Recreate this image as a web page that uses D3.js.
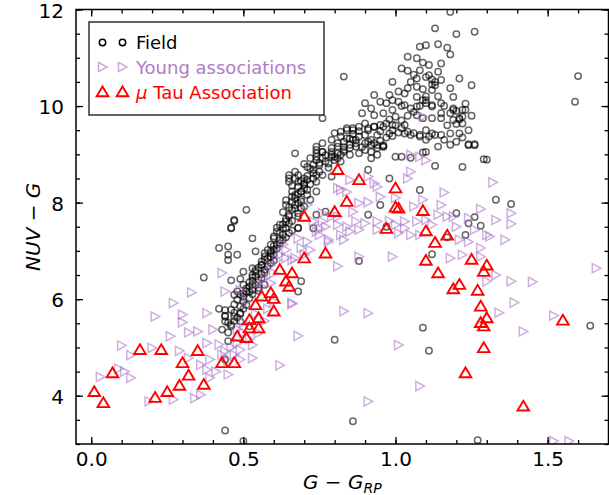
<!DOCTYPE html>
<html>
<head>
<meta charset="utf-8">
<script src="https://cdn.jsdelivr.net/npm/d3@7"></script>
<style>
  body { margin: 0; background: #fff; }
  svg { display: block; font-family: "DejaVu Sans", sans-serif; }
</style>
</head>
<body>
<svg id="chart" width="609" height="495"></svg>
<script>
// G - G_RP vs NUV - G
const fieldPts = [
  [0.51,7.85],[0.47,7.62],[0.46,7.48],[0.53,7.26],[0.42,7.06],[0.45,7.09],[0.45,6.92],[0.48,6.92],[0.45,6.81],
  [0.37,6.45],[0.50,6.57],[0.46,6.39],[0.49,6.42],[0.53,6.64],[0.50,6.30],[0.48,6.16],[0.54,6.99],
  [0.42,5.80],[0.44,5.77],[0.44,5.66],[0.49,5.70],[0.44,5.54],[0.46,5.47],[0.49,5.54],[0.45,5.31],[0.45,5.13],
  [0.44,4.75],[0.47,6.09],[0.50,6.12],[0.52,6.16],[0.44,3.28],[0.50,3.06],
  [0.80,5.16],[0.86,3.47],[1.09,5.41],[1.11,4.93],[0.52,5.44],[1.64,5.45],[1.27,3.08],
  [1.14,9.16],[1.10,9.05],[1.24,9.19],[1.26,9.19],[1.29,8.90],[1.30,8.89],[1.13,8.76],[1.22,8.74],[1.33,8.06],
  [1.38,7.97],[1.20,7.78],[1.26,7.70],[1.24,7.57],[1.28,7.52],[1.23,7.33],[1.17,7.28],[1.12,6.93],
  [0.67,9.02],[0.91,8.68],[0.98,8.50],[1.00,8.95],[1.02,8.95],[1.05,8.93],[1.09,9.04],[1.08,8.26],[0.95,7.95],
  [0.91,7.75],[0.74,7.75],[0.73,7.47],[0.68,7.48],[0.88,6.79],[0.67,8.64],[0.97,7.50],[0.69,6.37],[0.68,6.16],
  [1.18,11.95],[1.13,11.61],[1.20,11.49],[1.26,11.54],[1.10,11.26],[1.14,11.28],[1.17,11.21],[1.18,11.07],
  [1.60,10.62],[1.59,10.09],[1.21,10.57],[1.25,10.43],[1.18,10.37],[1.19,10.19],[1.23,9.92],[1.21,9.72],
  [1.20,9.63],[1.21,9.43],[1.18,9.43],[1.15,9.40],[1.13,9.40],[1.12,9.43],[1.20,9.26],[1.24,9.21],[1.26,9.21],
  [1.15,10.88],[1.14,10.71],[1.15,10.54],[1.12,10.55],[1.13,10.43],[1.12,10.33],[1.10,10.12],[1.12,9.99],
  [1.15,9.85],[1.12,9.75],[1.10,9.50],[1.15,9.75],[1.19,9.92],[1.22,9.78],
  [1.08,11.23],[1.04,11.02],[1.07,10.99],[1.09,10.90],[1.02,10.78],[1.04,10.73],[1.08,10.74],[1.11,10.64],
  [1.07,10.57],[0.83,10.61],[0.99,10.50],[1.05,10.50],[1.13,10.50],[1.04,10.37],[1.07,10.40],[1.01,10.30],
  [1.03,10.26],[0.93,10.23],[0.98,10.23],[0.99,10.12],[1.07,10.19],[1.09,10.12],[0.90,10.06],[0.92,9.95],
  [0.95,10.09],[0.97,10.06],[1.01,10.09],[1.03,10.02],[1.10,10.06],[1.12,10.02],[1.15,10.06],[1.19,9.95],
  [1.20,9.90],[1.22,9.92],[0.89,9.85],[0.93,9.81],[0.96,9.85],[0.99,9.92],[1.00,9.78],[1.05,9.95],[1.07,9.99],
  [1.07,9.81],[1.09,9.75],[1.19,9.71],[1.21,9.75],[1.22,9.64],[0.84,9.54],[0.86,9.50],[0.90,9.64],[0.91,9.50],
  [0.93,9.57],[0.96,9.57],[0.98,9.43],[0.99,9.50],[1.03,9.61],[1.03,9.43],[1.05,9.40],[1.08,9.40],[1.11,9.37],
  [0.82,9.37],[0.84,9.33],[0.86,9.30],[0.88,9.37],[0.91,9.26],[0.93,9.23],[0.96,9.19],[0.94,9.40],[0.76,9.75],
  [0.80,9.44],[0.82,9.47],[0.84,9.50],[0.86,9.54],[0.88,9.57],[0.91,9.54],[0.93,9.57],[0.95,9.61],[0.97,9.64],
  [0.99,9.61],[1.02,9.54],[1.04,9.47],[1.06,9.44],[1.08,9.37],[1.10,9.30],
  [0.79,9.30],[0.81,9.23],[0.83,9.26],[0.85,9.33],[0.87,9.30],[0.90,9.23],[0.92,9.30],[0.94,9.19],[0.96,9.16],
  [0.74,9.16],[0.76,9.23],
  [0.74,9.09],[0.76,9.05],[0.79,9.13],[0.81,9.16],[0.83,9.09],[0.85,9.13],[0.87,9.16],[0.90,9.09],[0.92,9.05],
  [0.94,9.13],[0.96,9.16],
  [0.72,8.92],[0.74,8.88],[0.76,8.92],[0.79,8.95],[0.81,8.92],[0.82,8.99],[0.85,8.99],[0.88,9.02],[0.92,8.92],
  [0.94,8.99],
  [0.71,8.74],[0.73,8.68],[0.75,8.78],[0.78,8.81],[0.74,8.57],
  [0.70,8.50],[0.73,8.50],[0.70,8.37],[0.69,8.23],[0.71,8.26],[0.68,8.43],[0.65,8.50],
  [0.67,8.09],[0.69,8.02],[0.67,7.88],[0.65,7.75],[0.68,7.71],[0.65,7.57],[0.63,7.47],[0.65,7.37],[0.63,7.23],
  [0.61,7.13],[0.59,6.99],[0.60,6.92],[0.57,6.81],[0.56,6.71],[0.54,6.57],[0.54,6.47],[0.53,6.30],[0.55,6.23],
  [0.74,9.02],[0.76,9.05],[0.79,8.99],[0.81,9.02],[0.83,9.05],[0.73,8.78],[0.75,8.82],[0.77,8.85],[0.80,8.88],
  [0.82,8.85],[0.73,8.61],[0.75,8.64],[0.76,8.57],[0.79,8.54],[0.71,8.47],[0.70,8.40],[0.74,8.43],[0.68,8.57],
  [0.65,8.57],[0.65,8.43],[0.68,8.33],[0.69,8.23],[0.67,8.16],[0.66,8.23],[0.69,8.06],[0.71,8.16],[0.74,8.23],
  [0.72,8.06],[0.70,7.92],[0.68,7.99],[0.64,7.95],[0.66,7.85],[0.68,7.78],[0.65,7.71],[0.64,7.61],[0.62,7.54],
  [0.64,7.47],[0.61,7.40],[0.63,7.33],[0.60,7.26],[0.62,7.16],[0.59,7.13],[0.60,7.02],[0.58,7.02],[0.59,6.88],
  [0.57,6.88],[0.59,6.75],[0.56,6.71],[0.54,6.61],[0.57,6.61],[0.53,6.50],[0.56,6.44],[0.53,6.37],[0.54,6.30],
  [0.57,6.30],[0.52,6.26],[0.53,6.19],[0.51,6.16],[0.49,6.09],[0.48,5.99],[0.50,5.95],[0.47,5.89],[0.46,5.78],
  [0.44,5.64],[0.45,5.51],[0.46,5.44],[0.43,5.37],[0.47,5.64],[0.49,5.71],[0.77,7.81],[0.68,7.47],
  [0.47,7.64],[0.46,7.47],
  [0.47,5.55],[0.48,5.62],[0.50,5.80],[0.51,5.88],[0.49,5.85],[0.52,6.02],[0.50,6.05],[0.47,5.72],
  [0.53,6.10],[0.55,6.18],[0.51,6.22],[0.52,6.35],[0.55,6.40],[0.56,6.52],[0.53,6.45],[0.57,6.55],
  [0.55,6.65],[0.58,6.68],[0.56,6.78],[0.58,6.85],[0.60,6.80],[0.57,6.95],[0.59,6.95],[0.61,7.05],
  [0.60,7.10],[0.62,7.22],[0.60,7.30],[0.62,7.38],[0.64,7.28],[0.61,7.48],[0.63,7.55],[0.66,7.42],
  [0.64,7.66],[0.66,7.62],[0.63,7.80],[0.65,7.90],[0.67,7.95],[0.66,8.02],[0.69,7.88],[0.64,8.05],
  [0.66,8.12],[0.68,8.18],[0.70,8.30],[0.66,8.35],[0.69,8.45],[0.72,8.38],[0.71,8.55],[0.67,8.50],
  [0.72,8.70],[0.70,8.80],[0.74,8.95],[0.77,8.98],[0.79,9.05],[0.78,8.72],[0.80,8.95],[0.83,9.15],
  [0.85,9.20],[0.87,9.23],[0.89,9.15],[0.92,9.20],[0.95,9.28],[0.97,9.35],[0.99,9.38],[1.01,9.45],
  [0.86,9.42],[0.88,9.48],[0.90,9.40],[0.95,9.48],[1.00,9.60],[1.02,9.70],[1.04,9.80],[1.06,9.88],
  [1.08,10.00],[1.10,10.20],[1.12,10.45],[1.10,10.60],[1.09,10.35],[1.14,10.20],[1.16,10.00],[1.18,9.85],
  [1.17,9.60],[1.16,9.30],[1.18,9.20],[1.22,9.35],[1.24,9.50],[1.25,9.80],[1.23,10.05],[1.06,10.65],
  [1.11,10.85],[1.02,10.00],[0.98,9.72]
];

const youngPts = [
  [0.43,6.54],[0.33,6.14],[0.44,6.16],[0.27,5.92],[0.21,5.64],[0.30,5.68],[0.30,5.52],[0.38,5.71],[0.40,5.37],
  [0.32,5.31],[0.35,5.33],[0.26,5.23],[0.10,5.04],[0.13,4.84],[0.20,4.99],[0.29,4.93],[0.38,5.09],[0.42,5.06],
  [0.44,4.92],[0.49,4.95],[0.09,4.56],[0.11,4.50],[0.03,4.39],[0.13,4.37],[0.32,4.78],[0.36,4.64],[0.39,4.75],
  [0.41,4.50],[0.39,4.37],[0.45,4.71],[0.47,4.85],[0.34,3.95],[0.36,4.02],[0.19,3.88],[0.27,3.92],[0.53,4.78],
  [0.50,5.51],[0.48,5.09],[0.43,4.85],[0.38,4.54],
  [0.48,5.38],[0.52,5.17],[0.49,4.75],[0.45,4.44],[0.46,5.00],[0.50,5.30],[0.53,5.05],[0.55,5.30],[0.57,5.55],
  [0.58,5.80],[0.54,5.70],[0.60,5.95],
  [0.71,7.95],[0.81,8.30],[0.85,8.47],[0.91,8.54],[0.93,8.40],[0.94,8.33],[1.04,8.50],[1.05,8.64],[1.00,8.10],
  [1.09,8.06],[1.06,7.92],[0.88,7.99],[0.91,8.01],[0.95,8.12],[0.86,7.81],[0.81,7.71],[0.76,7.61],[0.77,7.50],
  [0.81,7.54],[0.84,7.50],[0.87,7.61],[0.90,7.57],[0.94,7.61],[0.98,7.62],[1.00,7.54],[1.03,7.61],[1.07,7.61],
  [1.10,7.64],[0.74,7.40],[0.75,7.33],[0.82,7.33],[0.85,7.40],[0.88,7.44],[0.94,7.44],[1.01,7.37],[1.03,7.47],
  [1.05,7.33],[1.08,7.33],[0.71,7.19],[0.78,7.19],[0.83,7.23],[0.88,6.88],[0.99,6.88],[0.70,6.92],[0.64,6.85],
  [0.66,6.81],[0.69,7.06],[0.60,6.54],[0.63,7.13],[0.62,6.92],[0.59,6.71],[0.57,6.44],[0.54,6.30],[0.73,7.61],
  [0.76,7.78],[0.79,7.71],
  [0.49,6.19],[0.51,5.95],[0.56,6.26],[0.59,6.33],[0.61,6.81],[0.64,7.02],[0.68,7.26],[0.67,6.85],[0.66,5.92],
  [0.75,7.47],[0.78,7.23],[0.81,6.68],[0.72,7.02],[0.82,8.26],[0.84,8.22],
  [1.10,8.88],[1.32,8.42],[1.16,8.21],[1.15,7.95],[1.28,7.87],[1.38,7.78],[1.33,7.64],[1.38,7.56],[1.14,7.75],
  [1.17,7.71],[1.19,7.71],[1.24,7.68],[1.12,7.54],[1.20,7.50],[1.26,7.44],[1.30,7.33],[1.36,7.23],[1.21,7.23],
  [1.24,7.19],[1.28,7.06],[1.18,6.85],[1.22,6.92],[1.28,6.88],[1.33,6.50],[1.38,6.37],[1.45,6.36],[1.66,6.64],
  [1.30,6.37],[1.31,7.30],
  [0.66,5.90],[0.83,5.75],[0.91,5.71],[0.68,5.24],[1.01,5.05],[0.62,4.63],[1.08,4.20],[0.91,3.88],[1.39,5.93],
  [1.34,5.72],[1.42,5.33],[1.52,5.66],[1.52,3.06],[1.57,3.06],
  [1.09,9.78],[1.05,8.99],[1.08,8.95]
];

const muTauPts = [
  [0.01,4.08],[0.04,3.85],[0.07,4.47],[0.16,4.95],[0.23,4.95],[0.30,4.68],[0.32,4.42],[0.29,4.21],[0.25,4.08],
  [0.21,3.96],[0.35,4.93],[0.37,4.23],[0.43,4.68],[0.47,4.68],[0.48,5.23],[0.51,5.20],[0.52,5.40],[0.52,5.57],
  [0.54,5.88],[0.55,5.61],[0.55,5.40],[0.56,6.06],[0.59,6.13],[0.60,6.01],[0.60,5.75],[0.62,6.61],[0.66,6.54],
  [0.64,6.37],[0.65,6.26],[0.70,7.71],[0.70,6.85],[0.77,6.95],[0.81,8.68],[0.84,8.02],[0.80,7.81],[0.88,8.47],
  [1.00,8.30],[1.00,7.90],[1.01,7.88],[1.09,7.83],[0.97,7.46],[1.10,7.41],[1.10,6.80],[1.17,7.32],[1.13,7.17],
  [1.14,6.54],[1.25,6.82],[1.30,6.70],[1.29,6.57],[1.19,6.21],[1.21,6.30],[1.27,6.18],[1.28,5.85],[1.30,5.61],
  [1.28,5.51],[1.29,5.44],[1.55,5.56],[1.29,4.99],[1.23,4.47],[1.42,3.78]
];

const xMajor = [0.0, 0.5, 1.0, 1.5];
const xMinor = d3.range(0, 1.71, 0.1);
const yMajor = [4, 6, 8, 10, 12];
const yMinor = d3.range(3, 12.01, 0.5);

const seriesNames = ["Field", "Young associations", "\u03bc Tau Association"];

const width = 609;
const height = 495;
const plotLeft = 76;
const plotRight = 608.5;
const plotTop = 9.5;
const plotBottom = 444;

const xScale = d3.scaleLinear().domain([-0.05, 1.7]).range([plotLeft, plotRight]);
const yScale = d3.scaleLinear().domain([3, 12]).range([plotBottom, plotTop]);

const fieldColor = "#000";
const youngColor = "#a66fc6";
const youngText = "#b07cc6";
const tauColor = "#ff0000";

// marker shapes, centered on 0,0
const triRight = "M-4,-4.6L4.6,0L-4,4.6Z";
const triUp = "M0,-5.6L5.8,4.2L-5.8,4.2Z";

const svg = d3.select("#chart");

svg.append("defs").append("clipPath").attr("id", "clip")
  .append("rect")
  .attr("x", plotLeft).attr("y", plotTop)
  .attr("width", plotRight - plotLeft).attr("height", plotBottom - plotTop);

const plot = svg.append("g").attr("clip-path", "url(#clip)");

plot.selectAll("circle.field")
  .data(fieldPts)
  .join("circle")
  .attr("class", "field")
  .attr("cx", d => xScale(d[0]))
  .attr("cy", d => yScale(d[1]))
  .attr("r", 3.2)
  .attr("fill", "none")
  .attr("stroke", fieldColor)
  .attr("stroke-opacity", 0.6)
  .attr("stroke-width", 1.5);

plot.selectAll("path.young")
  .data(youngPts)
  .join("path")
  .attr("class", "young")
  .attr("d", triRight)
  .attr("transform", d => `translate(${xScale(d[0])},${yScale(d[1])})`)
  .attr("fill", "none")
  .attr("stroke", youngColor)
  .attr("stroke-opacity", 0.55)
  .attr("stroke-width", 1.5);

plot.selectAll("path.tau")
  .data(muTauPts)
  .join("path")
  .attr("class", "tau")
  .attr("d", triUp)
  .attr("transform", d => `translate(${xScale(d[0])},${yScale(d[1])})`)
  .attr("fill", "none")
  .attr("stroke", tauColor)
  .attr("stroke-width", 1.9);

// Axes, ticks inward on all four sides
function styleAxis(g) {
  g.select(".domain").remove();
  g.selectAll(".tick line").attr("stroke", "#000").attr("stroke-width", 1.3);
  g.selectAll(".tick text").attr("fill", "#000").attr("font-size", 20)
    .attr("font-family", "DejaVu Sans, sans-serif");
}

svg.append("g").attr("transform", `translate(0,${plotBottom})`)
  .call(d3.axisBottom(xScale).tickValues(xMinor).tickSize(-4).tickFormat(""))
  .call(styleAxis);
svg.append("g").attr("transform", `translate(0,${plotBottom})`)
  .call(d3.axisBottom(xScale).tickValues(xMajor).tickSize(-7).tickPadding(8).tickFormat(d3.format(".1f")))
  .call(styleAxis);
svg.append("g").attr("transform", `translate(0,${plotTop})`)
  .call(d3.axisTop(xScale).tickValues(xMinor).tickSize(-4).tickFormat(""))
  .call(styleAxis);
svg.append("g").attr("transform", `translate(0,${plotTop})`)
  .call(d3.axisTop(xScale).tickValues(xMajor).tickSize(-7).tickFormat(""))
  .call(styleAxis);

svg.append("g").attr("transform", `translate(${plotLeft},0)`)
  .call(d3.axisLeft(yScale).tickValues(yMinor).tickSize(-4).tickFormat(""))
  .call(styleAxis);
svg.append("g").attr("transform", `translate(${plotLeft},0)`)
  .call(d3.axisLeft(yScale).tickValues(yMajor).tickSize(-7).tickPadding(12).tickFormat(d3.format("d")))
  .call(styleAxis)
  .call(g => g.selectAll(".tick text").attr("dy", "0.38em"));
svg.append("g").attr("transform", `translate(${plotRight},0)`)
  .call(d3.axisRight(yScale).tickValues(yMinor).tickSize(-4).tickFormat(""))
  .call(styleAxis);
svg.append("g").attr("transform", `translate(${plotRight},0)`)
  .call(d3.axisRight(yScale).tickValues(yMajor).tickSize(-7).tickFormat(""))
  .call(styleAxis);

svg.append("rect")
  .attr("x", plotLeft).attr("y", plotTop)
  .attr("width", plotRight - plotLeft).attr("height", plotBottom - plotTop)
  .attr("fill", "none").attr("stroke", "#000").attr("stroke-width", 1.5);

// Axis labels
const xLab = svg.append("text")
  .attr("x", (plotLeft + plotRight) / 2)
  .attr("y", 489)
  .attr("text-anchor", "middle")
  .attr("font-size", 20);
xLab.append("tspan").attr("font-style", "italic").text("G");
xLab.append("tspan").text(" \u2212 ");
xLab.append("tspan").attr("font-style", "italic").text("G");
xLab.append("tspan").attr("font-style", "italic").attr("font-size", 14).attr("dy", 4).text("RP");

const yLab = svg.append("text")
  .attr("transform", `translate(40,${(plotTop + plotBottom) / 2}) rotate(-90)`)
  .attr("text-anchor", "middle")
  .attr("font-size", 20);
yLab.append("tspan").attr("font-style", "italic").text("NUV");
yLab.append("tspan").text(" \u2212 ");
yLab.append("tspan").attr("font-style", "italic").text("G");

// Legend
const legend = svg.append("g");
legend.append("rect")
  .attr("x", 89).attr("y", 22).attr("width", 235).attr("height", 93)
  .attr("fill", "#fff").attr("stroke", "#333").attr("stroke-width", 1.5);

const rows = [
  { name: seriesNames[0], y: 42.5, text: "#000" },
  { name: seriesNames[1], y: 67, text: youngText },
  { name: seriesNames[2], y: 92, text: tauColor }
];
rows.forEach((r, i) => {
  [102.5, 122.5].forEach(mx => {
    if (i === 0) {
      legend.append("circle").attr("cx", mx).attr("cy", r.y).attr("r", 3.2)
        .attr("fill", "none").attr("stroke", fieldColor).attr("stroke-width", 1.5);
    } else if (i === 1) {
      legend.append("path").attr("d", triRight).attr("transform", `translate(${mx},${r.y})`)
        .attr("fill", "none").attr("stroke", youngColor).attr("stroke-opacity", 0.6).attr("stroke-width", 1.5);
    } else {
      legend.append("path").attr("d", triUp).attr("transform", `translate(${mx},${r.y})`)
        .attr("fill", "none").attr("stroke", tauColor).attr("stroke-width", 1.9);
    }
  });
  const t = legend.append("text").attr("x", 136).attr("y", r.y + 6.5)
    .attr("font-size", 18).attr("fill", r.text);
  if (i === 2) {
    t.append("tspan").attr("font-style", "italic").text("\u03bc");
    t.append("tspan").text(" Tau Association");
  } else {
    t.text(r.name);
  }
});
</script>
</body>
</html>
